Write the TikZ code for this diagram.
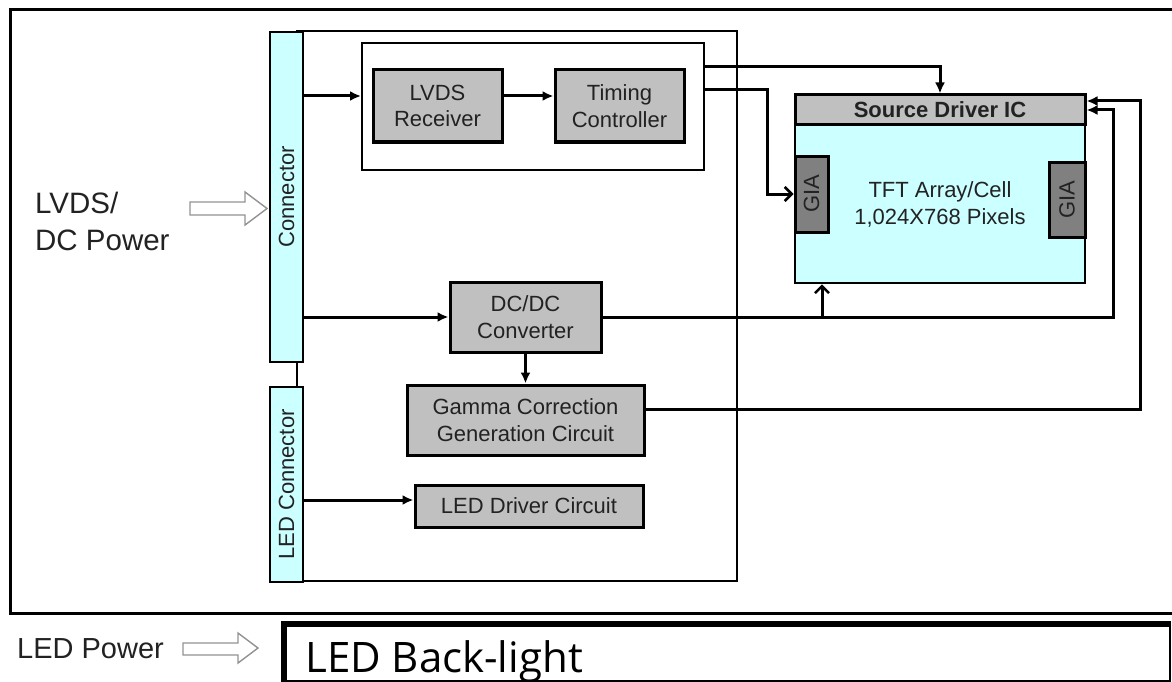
\documentclass[tikz,border=0pt]{standalone}
\usepackage{fontspec}
\usepackage{graphicx}
\setmainfont{Liberation Sans}
\newfontfamily\backlightfont{Open Sans}
\usetikzlibrary{arrows.meta}
\definecolor{boxgray}{HTML}{C0C0C0}
\definecolor{giagray}{HTML}{808080}
\definecolor{panelcyan}{HTML}{CCFFFF}
\definecolor{inkgray}{HTML}{222222}
\begin{document}
\begin{tikzpicture}[x=1pt,y=-1pt]
  \tikzset{
    gray block/.style={rectangle, draw=black, fill=boxgray, line width=3pt, inner sep=0pt, align=center, text=inkgray, font=\fontsize{22}{26.5}\selectfont},
    cyan strip/.style={rectangle, draw=black, fill=panelcyan, line width=2.6pt, inner sep=0pt, minimum width=33pt, text=inkgray, font=\fontsize{22}{27}\selectfont},
    frame box/.style={rectangle, draw=black, line width=2pt, inner sep=0pt},
    wire/.style={line width=3pt, -{Latex[length=11pt,width=10pt]}},
    open wire/.style={line width=3pt, -{Straight Barb[length=7pt,width=14pt,line width=2.6pt]}},
    hollow arrow/.style={draw=gray!85, fill=white, line width=1.4pt},
    side label/.style={anchor=base west, inner sep=0pt, text=inkgray, font=\fontsize{29.5}{36}\selectfont}
  }
  \useasboundingbox (0,0) rectangle (1172,682);
  \draw[line width=3pt] (1180,10) -- (10,10) -- (10,613) -- (1180,613);

  \node[side label] (lvdslabel) at (35,213) {LVDS/};
  \node[side label] (dclabel) at (35,250) {DC Power};
  \draw[hollow arrow] (190,202) -- (245,202) -- (245,192) -- (267,208.5) -- (245,225) -- (245,215) -- (190,215) -- cycle;

  \node[frame box, minimum width=440pt, minimum height=550pt] (board) at (517,306) {};
  \node[frame box, minimum width=342pt, minimum height=127pt] (tcon) at (533,106.5) {};
  \node[cyan strip, minimum height=330pt] (conn) at (286.5,197) {\rotatebox{90}{Connector}};
  \node[cyan strip, minimum height=195pt] (ledconn) at (286.5,484.5) {\rotatebox{90}{LED Connector}};

  \node[gray block, minimum width=129pt, minimum height=72pt] (rx) at (437.5,106) {LVDS\\Receiver};
  \node[gray block, minimum width=129pt, minimum height=72pt] (tc) at (619.5,106) {Timing\\Controller};
  \node[gray block, minimum width=151pt, minimum height=70pt] (dcdc) at (525.5,317) {DC/DC\\Converter};
  \node[gray block, minimum width=237pt, minimum height=70pt] (gamma) at (525.5,420) {Gamma Correction\\Generation Circuit};
  \node[gray block, minimum width=228pt, minimum height=42pt] (leddrv) at (529,506) {LED Driver Circuit};

  \node[cyan strip, minimum width=290pt, minimum height=158pt, align=center] (tft) at (940,204) {TFT Array/Cell\\1,024X768 Pixels};
  \node[gray block, minimum width=290pt, minimum height=30pt, font=\fontsize{22}{26}\selectfont\bfseries] (sd) at (940,110) {Source Driver IC};
  \node[gray block, fill=giagray, minimum width=33pt, minimum height=76pt] (giaL) at (811.5,194) {\rotatebox{90}{GIA}};
  \node[gray block, fill=giagray, minimum width=36pt, minimum height=75pt] (giaR) at (1067,199.5) {\rotatebox{90}{GIA}};

  \coordinate (row0) at (0,67);
  \coordinate (row1) at (0,96);
  \coordinate (tapgia) at (767,90);
  \coordinate (row4) at (0,409);
  \coordinate (row5) at (0,500);
  \coordinate (sdin1) at (1140,101);
  \coordinate (sdin2) at (1113,110);
  \coordinate (tftup) at (822,317);

  \draw[wire] (conn.east |- row1) -- (tcon.west |- row1);
  \draw[wire] (rx.east |- row1) -- (tc.west |- row1);
  \draw[wire] (tcon.east |- row0) -| (sd.north);
  \draw[open wire] (tcon.east |- tapgia) -- (tapgia) |- (giaL.west);
  \draw[wire] (conn.east |- dcdc.west) -- (dcdc.west);
  \draw[wire] (dcdc.south) -- (gamma.north);
  \draw[wire] (ledconn.east |- row5) -- (leddrv.west |- row5);
  \draw[wire] (dcdc.east) -| (sdin2) -- (sd.east |- sdin2);
  \draw[open wire] (tftup) -- (tft.south -| tftup);
  \draw[wire] (gamma.east |- row4) -| (sdin1) -- (sd.east |- sdin1);

  \node[side label, font=\fontsize{29}{36}\selectfont] (ledpower) at (17,658) {LED Power};
  \draw[hollow arrow] (183,643) -- (238,643) -- (238,633) -- (258,648) -- (238,663) -- (238,655) -- (183,655) -- cycle;
  \draw[line width=1.4pt] (282,622) rectangle (1170,681);
  \draw[line width=5pt] (284,681) -- (284,624) -- (1170,624);
  \node[anchor=base west, inner sep=0pt, font=\backlightfont\fontsize{42}{50}\selectfont] (backlight) at (305,672) {LED Back-light};
\end{tikzpicture}
\end{document}
